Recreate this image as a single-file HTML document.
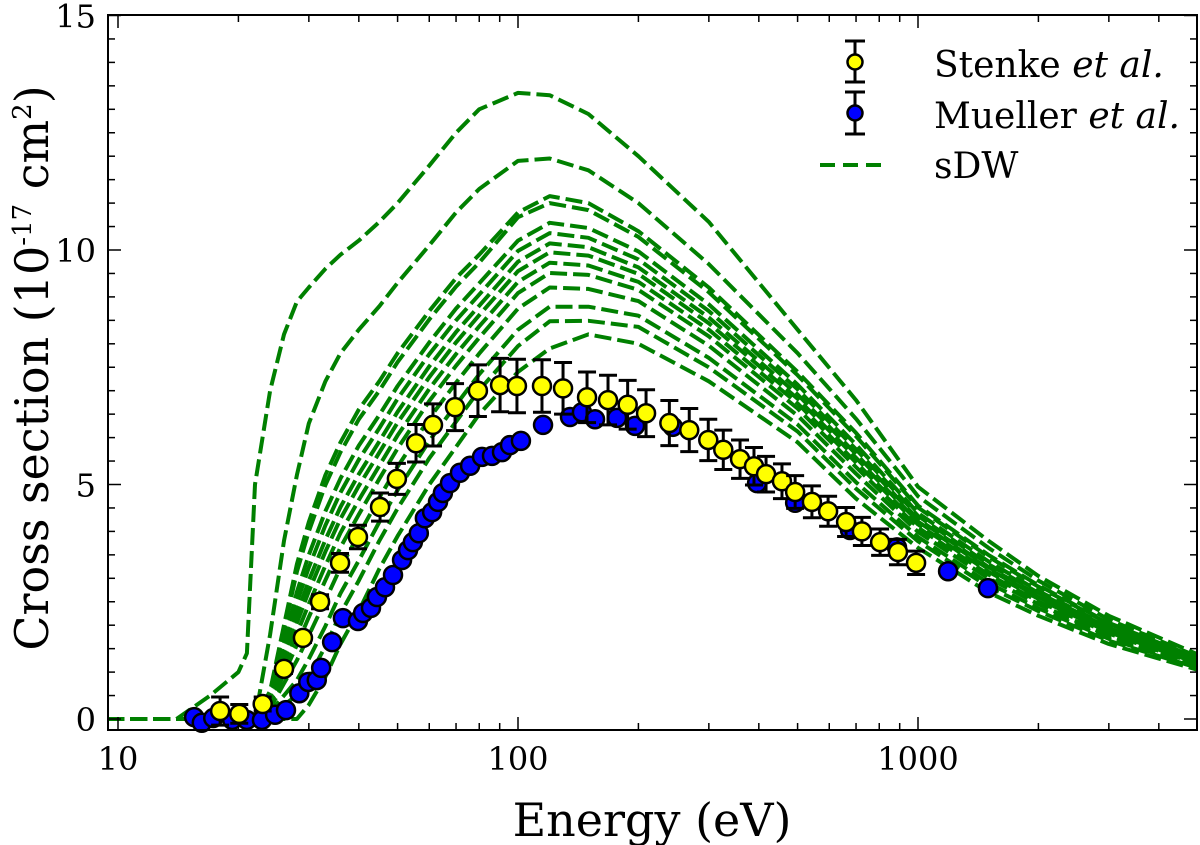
<!DOCTYPE html>
<html><head><meta charset="utf-8"><style>
html,body{margin:0;padding:0;background:#fff;}
svg{display:block;font-family:"DejaVu Serif","Liberation Serif",serif;}
</style></head><body>
<svg id="chart" width="1200" height="845" viewBox="0 0 1200 845" xmlns="http://www.w3.org/2000/svg">
<g id="curves"></g>
<g id="mueller"></g>
<g id="stenke"></g>
<g id="axes"></g>
<text x="652" y="836" font-size="46" text-anchor="middle">Energy (eV)</text>
<text transform="translate(48,368) rotate(-90)" font-size="46" text-anchor="middle">Cross section (10<tspan dy="-17" font-size="26">-17</tspan><tspan dy="17"> cm</tspan><tspan dy="-17" font-size="26">2</tspan><tspan dy="17">)</tspan></text>
<g>
 <g>
  <line x1="855" y1="41" x2="855" y2="82" stroke="#000" stroke-width="3"/>
  <line x1="845" y1="41" x2="865" y2="41" stroke="#000" stroke-width="3"/>
  <line x1="845" y1="82" x2="865" y2="82" stroke="#000" stroke-width="3"/>
  <circle cx="855" cy="62" r="7.5" fill="#ffff00" stroke="#000" stroke-width="2.5"/>
  <text x="934" y="77" font-size="36">Stenke <tspan font-style="italic">et al.</tspan></text>
 </g>
 <g>
  <line x1="855" y1="92" x2="855" y2="134" stroke="#000" stroke-width="3"/>
  <line x1="845" y1="92" x2="865" y2="92" stroke="#000" stroke-width="3"/>
  <line x1="845" y1="134" x2="865" y2="134" stroke="#000" stroke-width="3"/>
  <circle cx="855" cy="113" r="7.5" fill="#0000ff" stroke="#000" stroke-width="2.5"/>
  <text x="934" y="128" font-size="36">Mueller <tspan font-style="italic">et al.</tspan></text>
 </g>
 <g>
  <line x1="820" y1="165" x2="882" y2="165" stroke="#008000" stroke-width="4" stroke-dasharray="15 8"/>
  <text x="934" y="178" font-size="36">sDW</text>
 </g>
</g>
</svg>
<script>
const energyGrid=[9.4,14,17,20,21,22,24,26,28,30,33,36,40,45,50,60,70,80,100,120,150,200,300,500,700,1000,1500,2000,3000,5000];
const sdw1=[0,0,0.5,1.0,1.4,5.0,7.0,8.2,8.9,9.2,9.6,9.9,10.2,10.6,11.0,11.8,12.5,13.0,13.35,13.3,12.9,12.0,10.6,8.3,6.8,4.95,3.8,3.05,2.2,1.38];
const sdw2=[0,0,0,0,0,0,1.8,3.8,5.2,6.3,7.2,7.8,8.3,8.8,9.3,10.1,10.8,11.3,11.9,11.95,11.7,11.0,9.7,7.8,6.4,4.75,3.65,2.95,2.12,1.33];
const sdw3=[0,0,0,0,0,0,0.6,2.0,3.3,4.2,5.2,5.9,6.6,7.2,7.8,8.7,9.4,9.9,10.8,11.15,11.0,10.4,9.2,7.4,6.1,4.55,3.5,2.85,2.05,1.3];
const sdw4=[0,0,0,0,0,0,0.57,1.9,3.14,4.0,4.99,5.69,6.39,7.0,7.61,8.52,9.22,9.73,10.7,11.0,10.85,10.28,9.1,7.33,6.03,4.51,3.46,2.82,2.03,1.29];
const sdw5=[0,0,0,0,0,0,0.49,1.64,2.71,3.5,4.43,5.13,5.83,6.48,7.1,8.03,8.75,9.29,10.2,10.58,10.47,9.97,8.84,7.13,5.85,4.39,3.36,2.73,1.97,1.26];
const sdw6=[0,0,0,0,0,0,0.45,1.5,2.48,3.23,4.13,4.83,5.53,6.2,6.83,7.78,8.5,9.05,9.98,10.36,10.26,9.8,8.7,7.03,5.75,4.33,3.3,2.69,1.94,1.24];
const sdw7=[0,0,0,0,0,0,0.41,1.36,2.24,2.95,3.82,4.52,5.22,5.92,6.55,7.52,8.25,8.81,9.75,10.14,10.06,9.63,8.56,6.92,5.65,4.26,3.24,2.64,1.91,1.22];
const sdw8=[0,0,0,0,0,0,0.37,1.24,2.05,2.72,3.57,4.27,4.97,5.68,6.32,7.29,8.03,8.61,9.55,9.95,9.88,9.49,8.44,6.83,5.57,4.21,3.2,2.6,1.88,1.21];
const sdw9=[0,0,0,0,0,0,0.33,1.1,1.82,2.45,3.27,3.97,4.67,5.4,6.05,7.04,7.78,8.37,9.32,9.73,9.67,9.32,8.3,6.73,5.47,4.15,3.14,2.56,1.85,1.19];
const sdw10=[0,0,0,0,0,0,0.29,0.96,1.58,2.17,2.96,3.66,4.36,5.12,5.77,6.78,7.53,8.13,9.08,9.51,9.47,9.15,8.16,6.62,5.37,4.08,3.08,2.51,1.82,1.17];
const sdw11=[0,0,0,0,0,0,0.23,0.76,1.25,1.78,2.53,3.23,3.93,4.72,5.38,6.41,7.17,7.79,8.75,9.2,9.17,8.91,7.96,6.47,5.23,3.99,3.0,2.45,1.77,1.15];
const sdw12=[0,0,0,0,0,0,0.15,0.5,0.83,1.28,1.98,2.68,3.38,4.2,4.88,5.93,6.7,7.35,8.3,8.79,8.79,8.6,7.7,6.28,5.05,3.88,2.9,2.36,1.71,1.11];
const sdw13=[0,0,0,0,0,0,0.09,0.3,0.5,0.89,1.55,2.25,2.95,3.8,4.49,5.56,6.34,7.01,7.95,8.48,8.49,8.36,7.5,6.13,4.91,3.79,2.82,2.3,1.67,1.09];
const sdw14=[0,0,0,0,0,0,0,0,0,0.3,0.9,1.6,2.3,3.2,3.9,5.0,5.8,6.5,7.4,7.9,8.2,8.0,7.2,5.9,4.7,3.65,2.7,2.2,1.6,1.05];
const sdwSeries=[sdw1,sdw2,sdw3,sdw4,sdw5,sdw6,sdw7,sdw8,sdw9,sdw10,sdw11,sdw12,sdw13,sdw14];

const stenkeE=[18.0,20.1,23.0,26.0,29.0,32.0,35.9,39.8,45.2,49.8,55.6,61.3,69.6,79.4,90.2,99.4,114.8,129.6,148.8,167.9,188,209,239,268,299,326,359,389,417,457,493,543,596,661,724,804,891,989];
const stenkeSigma=[0.17,0.11,0.32,1.07,1.73,2.5,3.33,3.88,4.52,5.12,5.88,6.27,6.65,7.0,7.12,7.1,7.1,7.05,6.86,6.8,6.7,6.52,6.31,6.16,5.95,5.74,5.54,5.39,5.22,5.07,4.84,4.63,4.43,4.2,4.0,3.77,3.56,3.33];
const stenkeErr=[0.3,0.2,0.15,0.1,0.1,0.15,0.2,0.25,0.3,0.33,0.4,0.45,0.5,0.55,0.57,0.57,0.56,0.55,0.54,0.53,0.52,0.5,0.48,0.46,0.44,0.42,0.41,0.4,0.38,0.37,0.35,0.34,0.32,0.31,0.3,0.28,0.27,0.25];

const muellerE=[15.5,16.2,17.3,19.3,21.0,22.9,24.7,26.3,28.4,29.9,31.4,32.2,34.3,36.5,39.8,41.0,42.9,44.4,46.5,48.7,51.3,53.1,54.6,56.5,58.5,61.0,63.1,64.9,67.6,71.6,75.9,81.3,86.1,91.2,95.5,101.7,115.5,134.9,144.5,155.8,176.8,196.1,244,396,493,676,886,1189,1496];
const muellerSigma=[0.04,-0.08,0.02,-0.02,-0.02,-0.02,0.09,0.19,0.55,0.79,0.83,1.09,1.64,2.15,2.09,2.26,2.37,2.6,2.81,3.07,3.39,3.6,3.77,3.96,4.28,4.41,4.63,4.82,5.03,5.25,5.4,5.59,5.61,5.69,5.84,5.93,6.27,6.44,6.54,6.39,6.42,6.25,6.23,5.03,4.61,4.03,3.66,3.15,2.79];

const yTickLabels=["0","5","10","15"];
const yTickValues=[0,5,10,15];
const xTickLabels=["10","100","1000"];
const xTickValues=[10,100,1000];

const L=108,R=1197,T=15,B=730;
const X0=118, DEC=400;
function xs(e){return X0+(Math.log10(e)-1)*DEC;}
function ys(v){return 719-v*46.9;}
const NS="http://www.w3.org/2000/svg";
function mk(tag,attrs,parent){const el=document.createElementNS(NS,tag);for(const k in attrs)el.setAttribute(k,attrs[k]);parent.appendChild(el);return el;}

const defs=mk('defs',{},document.getElementById('chart'));
const cp=mk('clipPath',{id:'plotclip'},defs);
mk('rect',{x:L,y:T,width:R-L,height:B-T},cp);

const gC=document.getElementById('curves');
gC.setAttribute('clip-path','url(#plotclip)');
sdwSeries.forEach((s,i)=>{
  const d=s.map((v,j)=>(j?'L':'M')+xs(energyGrid[j]).toFixed(1)+','+ys(v).toFixed(1)).join('');
  const p=mk('path',{d:d,fill:'none',stroke:'#008000','stroke-width':4,'stroke-dasharray':'17 6','stroke-linejoin':'round'},gC);
  
  
});

const gM=document.getElementById('mueller');
muellerE.forEach((e,i)=>{
  const c=mk('circle',{cx:xs(e),cy:ys(muellerSigma[i]),r:9,fill:'#0000ff',stroke:'#000','stroke-width':2.5},gM);
  
  
});

const gS=document.getElementById('stenke');
stenkeE.forEach((e,i)=>{
  const x=xs(e),y=ys(stenkeSigma[i]),y1=ys(stenkeSigma[i]+stenkeErr[i]),y2=ys(stenkeSigma[i]-stenkeErr[i]);
  const g=mk('g',{},gS);
  
  
  mk('line',{x1:x,y1:y1,x2:x,y2:y2,stroke:'#000','stroke-width':3},g);
  mk('line',{x1:x-9,y1:y1,x2:x+9,y2:y1,stroke:'#000','stroke-width':3},g);
  mk('line',{x1:x-9,y1:y2,x2:x+9,y2:y2,stroke:'#000','stroke-width':3},g);
  mk('circle',{cx:x,cy:y,r:9,fill:'#ffff00',stroke:'#000','stroke-width':2.5},g);
});

const gA=document.getElementById('axes');
const fr=mk('rect',{x:L,y:T,width:R-L,height:B-T,fill:'none',stroke:'#000','stroke-width':2},gA);


for(let v=0;v<=15.001;v+=0.5){
  const major=Math.abs(v-Math.round(v/5)*5)<1e-6;
  const len=major?13:7;
  mk('line',{x1:L,y1:ys(v),x2:L+len,y2:ys(v),stroke:'#000','stroke-width':1.5},gA);
  mk('line',{x1:R,y1:ys(v),x2:R-len,y2:ys(v),stroke:'#000','stroke-width':1.5},gA);
}
yTickValues.forEach((v,i)=>{
  const t=mk('text',{x:L-12,y:ys(v)+12,'font-size':32,'text-anchor':'end'},gA);
  t.textContent=yTickLabels[i];
  
  
});
for(let dec=10;dec<=1000;dec*=10){
  for(let m=1;m<=9;m++){
    const e=dec*m, x=xs(e);
    if(x<L||x>R)continue;
    const len=m===1?13:7;
    mk('line',{x1:x,y1:B,x2:x,y2:B-len,stroke:'#000','stroke-width':1.5},gA);
    mk('line',{x1:x,y1:T,x2:x,y2:T+len,stroke:'#000','stroke-width':1.5},gA);
  }
}
xTickValues.forEach((v,i)=>{
  const t=mk('text',{x:xs(v),y:B+40,'font-size':32,'text-anchor':'middle'},gA);
  t.textContent=xTickLabels[i];
  
  
});
</script>
</body></html>
